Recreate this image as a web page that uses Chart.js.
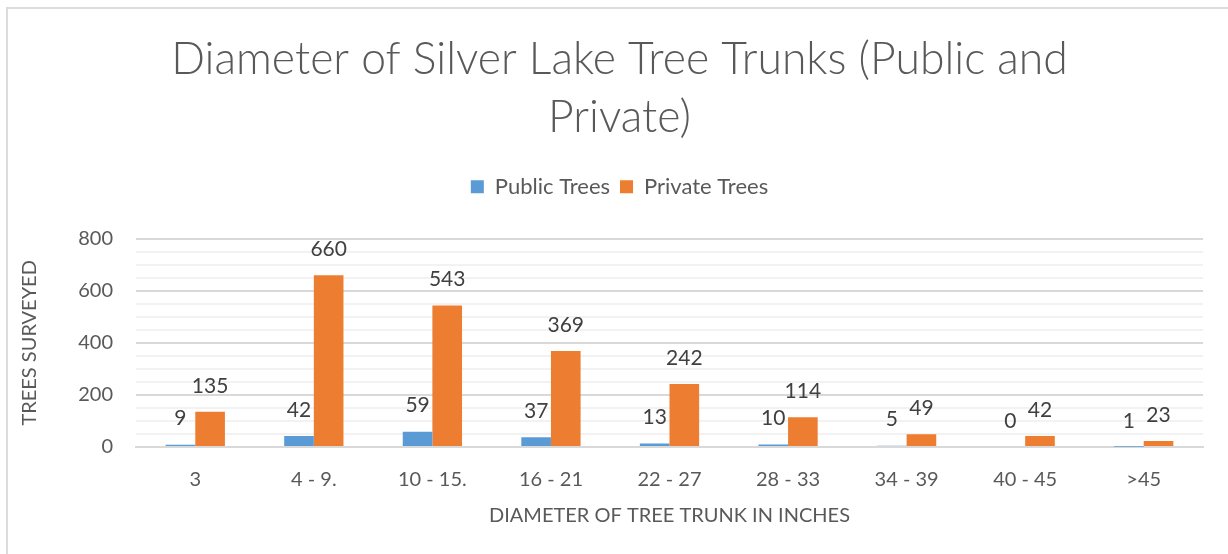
<!DOCTYPE html>
<html>
<head>
<meta charset="utf-8">
<script src="https://cdn.jsdelivr.net/npm/chart.js@4.4.1/dist/chart.umd.min.js"></script>
<style>
  html, body { margin: 0; padding: 0; background: #fff; }
  #wrap { position: relative; width: 1228px; height: 554px; overflow: hidden; }
  #frame { position: absolute; left: 6px; top: 7px; width: 1240px; height: 560px;
           border-left: 2px solid #dcdcdc; border-top: 2px solid #dcdcdc; }
  canvas { position: absolute; left: 0; top: 0; }
</style>
</head>
<body>
<div id="wrap">
  <div id="frame"></div>
  <canvas id="chart" width="1228" height="554"></canvas>
</div>
<script>
// ─── Data ───────────────────────────────────────────────────

const categories = ['3', '4 - 9.', '10 - 15.', '16 - 21', '22 - 27', '28 - 33', '34 - 39', '40 - 45', '>45'];
const publicTrees = [9, 42, 59, 37, 13, 10, 5, 0, 1];
const privateTrees = [135, 660, 543, 369, 242, 114, 49, 42, 23];
const yTicks = [0, 200, 400, 600, 800];

const FONT = 'Lato, "Open Sans", sans-serif';
const TEXT = '#595959';

// ─── Plugins ────────────────────────────────────────────────

// value labels above each bar
const barLabels = {
  id: 'barLabels',
  afterDatasetsDraw(chart) {
    const ctx = chart.ctx;
    ctx.save();
    ctx.font = '21px ' + FONT;
    ctx.fillStyle = '#404040';
    ctx.textAlign = 'center';
    ctx.textBaseline = 'middle';
    chart.data.datasets.forEach((ds, i) => {
      chart.getDatasetMeta(i).data.forEach((bar, j) => {
        ctx.fillText(String(ds.data[j]), bar.x, bar.y - 26);
      });
    });
    ctx.restore();
  },
};

// extra room between legend and plot
const legendGap = {
  id: 'legendGap',
  beforeInit(chart) {
    const fit = chart.legend.fit;
    chart.legend.fit = function () {
      fit.call(this);
      this.height += 31;
    };
  },
};

// ─── Chart ──────────────────────────────────────────────────

new Chart(document.getElementById('chart'), {
  type: 'bar',
  data: {
    labels: categories,
    datasets: [
      { label: 'Public Trees', data: publicTrees, backgroundColor: '#5B9BD5' },
      { label: 'Private Trees', data: privateTrees, backgroundColor: '#ED7D31' },
    ],
  },
  options: {
    responsive: false,
    animation: false,
    layout: { padding: { left: 36, right: 25, top: 0, bottom: 0 } },
    datasets: {
      bar: { categoryPercentage: 0.5, barPercentage: 1.0 },
    },
    plugins: {
      title: {
        display: true,
        text: ['Diameter of Silver Lake Tree Trunks (Public and', 'Private)'],
        color: TEXT,
        font: { family: FONT, size: 44.5, weight: '300', lineHeight: 1.3 },
        padding: { top: 31, bottom: 19 },
      },
      legend: {
        labels: {
          color: TEXT,
          font: { family: FONT, size: 22 },
          boxWidth: 13,
          boxHeight: 13,
          padding: 10,
        },
      },
      tooltip: { enabled: false },
    },
    scales: {
      x: {
        grid: { display: false, drawTicks: false },
        border: { display: true, color: '#d9d9d9', width: 2 },
        ticks: { color: TEXT, font: { family: FONT, size: 20 }, padding: 21 },
        title: {
          display: true,
          text: 'DIAMETER OF TREE TRUNK IN INCHES',
          color: TEXT,
          font: { family: FONT, size: 20 },
          padding: { top: 0, bottom: 26 },
        },
        afterFit: s => { s.height = 107; },
      },
      y: {
        min: 0,
        max: 800,
        grid: {
          drawTicks: false,
          color: c => (yTicks.includes(c.tick.value) ? '#d9d9d9' : '#f2f2f2'),
          lineWidth: 2,
        },
        border: { display: false },
        ticks: {
          stepSize: 50,
          autoSkip: false,
          color: TEXT,
          font: { family: FONT, size: 20 },
          padding: 23,
          callback: v => (yTicks.includes(v) ? v : ''),
        },
        title: {
          display: true,
          text: 'TREES SURVEYED',
          color: TEXT,
          font: { family: FONT, size: 20 },
          padding: { top: -18, bottom: 0 },
        },
        afterFit: s => { s.width = 100; },
      },
    },
  },
  plugins: [barLabels, legendGap],
});
</script>
</body>
</html>
